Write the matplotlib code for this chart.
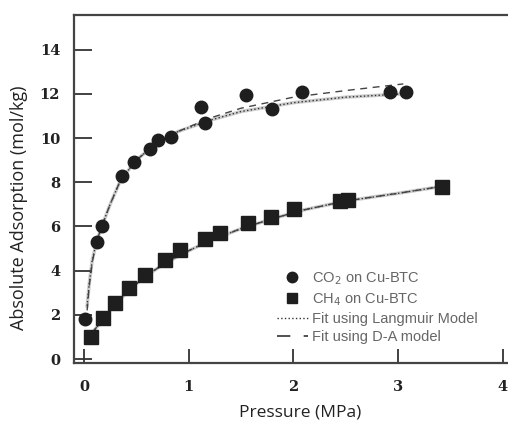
# Adsorption isotherms of CO2 and CH4 on Cu-BTC with fitted models

import matplotlib.pyplot as plt

# measured points (pressure in MPa, uptake in mol/kg)
co2_p = [0.01, 0.12, 0.17, 0.36, 0.48, 0.63, 0.71, 0.83, 1.12, 1.16,
         1.55, 1.80, 2.08, 2.92, 3.08]
co2_q = [1.8, 5.3, 6.0, 8.3, 8.9, 9.5, 9.9, 10.05, 11.4, 10.7,
         11.95, 11.3, 12.1, 12.1, 12.1]

ch4_p = [0.07, 0.18, 0.30, 0.43, 0.58, 0.77, 0.92, 1.16, 1.30, 1.57,
         1.79, 2.01, 2.45, 2.52, 3.42]
ch4_q = [1.0, 1.85, 2.55, 3.2, 3.8, 4.5, 4.95, 5.45, 5.7, 6.15,
         6.45, 6.8, 7.15, 7.2, 7.8]

# fitted curves
co2_lang_p = [0.03, 0.05, 0.08, 0.12, 0.17, 0.25, 0.35, 0.5, 0.7, 0.9,
              1.2, 1.5, 2.0, 2.5, 3.05]
co2_lang_q = [2.4, 3.4, 4.5, 5.3, 6.0, 7.0, 8.1, 9.0, 9.8, 10.3,
              10.8, 11.2, 11.6, 11.85, 12.0]
co2_da_p = [0.03, 0.05, 0.08, 0.12, 0.17, 0.25, 0.35, 0.5, 0.7, 0.9,
            1.2, 1.5, 2.0, 2.5, 3.05]
co2_da_q = [2.2, 3.3, 4.4, 5.3, 6.0, 7.0, 8.1, 9.0, 9.8, 10.3,
            10.9, 11.35, 11.85, 12.15, 12.45]

ch4_fit_p = [0.08, 0.2, 0.3, 0.45, 0.6, 0.8, 1.0, 1.2, 1.5, 1.8,
             2.1, 2.5, 3.0, 3.4]
ch4_fit_q = [1.2, 1.9, 2.5, 3.2, 3.8, 4.4, 4.9, 5.35, 5.9, 6.35,
             6.75, 7.15, 7.5, 7.8]

x_ticks = [0, 1, 2, 3, 4]
y_ticks = [0, 2, 4, 6, 8, 10, 12, 14]

fig = plt.figure(figsize=(5.08, 4.22), dpi=100)
ax = fig.add_axes([0.1457, 0.1398, 0.8543, 0.8247])

# faint grey trail under the fits
ax.plot(co2_lang_p, co2_lang_q, color='#cccccc', lw=2.5, zorder=1)
ax.plot(ch4_fit_p, ch4_fit_q, color='#cccccc', lw=2.5, zorder=1)

ax.plot(co2_lang_p, co2_lang_q, ':', color='#333333', lw=1.0, zorder=2)
ax.plot(co2_da_p, co2_da_q, '--', color='#444444', lw=1.0, dashes=(5, 4), zorder=2)
ax.plot(ch4_fit_p, ch4_fit_q, ':', color='#333333', lw=1.0, zorder=2)
ax.plot(ch4_fit_p, ch4_fit_q, '--', color='#444444', lw=1.0, dashes=(5, 4), zorder=2)

ax.plot(co2_p, co2_q, 'o', color='#1e1e1e', ms=9, ls='none', zorder=3)
ax.plot(ch4_p, ch4_q, 's', color='#1e1e1e', ms=10.5, ls='none', zorder=3)

ax.set_xlim(-0.095, 4.05)
ax.set_ylim(-0.18, 15.57)
ax.set_xticks(x_ticks)
ax.set_yticks(y_ticks)
ax.set_xticklabels([str(t) for t in x_ticks], family='DejaVu Serif',
                   fontweight='bold', fontsize=10.5, color='#222222')
ax.set_yticklabels([str(t) for t in y_ticks], family='DejaVu Serif',
                   fontweight='bold', fontsize=10.5, color='#222222')
ax.tick_params(axis='x', direction='in', length=10, width=1.3, pad=12, color='#333333')
ax.tick_params(axis='y', direction='in', length=13, width=1.3, pad=10, color='#333333')

for s in ['left', 'bottom', 'top']:
    ax.spines[s].set_linewidth(1.6)
    ax.spines[s].set_color('#444444')
ax.spines['right'].set_visible(False)

ax.set_xlabel('Pressure (MPa)', family='Open Sans', fontsize=12.5, color='#222222')
ax.set_ylabel('Absolute Adsorption (mol/kg)', family='Open Sans', fontsize=13,
              color='#222222')
ax.xaxis.set_label_coords(0.521, -0.118)
ax.yaxis.set_label_coords(-0.105, 0.445)

# legend
h1, = ax.plot([], [], 'o', color='#1e1e1e', ms=7.5)
h2, = ax.plot([], [], 's', color='#1e1e1e', ms=7.5)
h3, = ax.plot([], [], ':', color='#333333', lw=1)
h4, = ax.plot([], [], '--', color='#333333', lw=1.2, dashes=(8, 8))
leg = ax.legend([h1, h2, h3, h4],
                ['CO$_2$ on Cu-BTC', 'CH$_4$ on Cu-BTC',
                 'Fit using Langmuir Model', 'Fit using D-A model'],
                loc='upper left', bbox_to_anchor=(0.468, 0.266), frameon=False,
                borderpad=0, borderaxespad=0,
                prop={'family': 'Liberation Sans', 'size': 10.5},
                labelspacing=0.28, handlelength=2.1, handletextpad=0.3)
for t in leg.get_texts():
    t.set_color('#666666')

fig.savefig('out.png', dpi=100)
